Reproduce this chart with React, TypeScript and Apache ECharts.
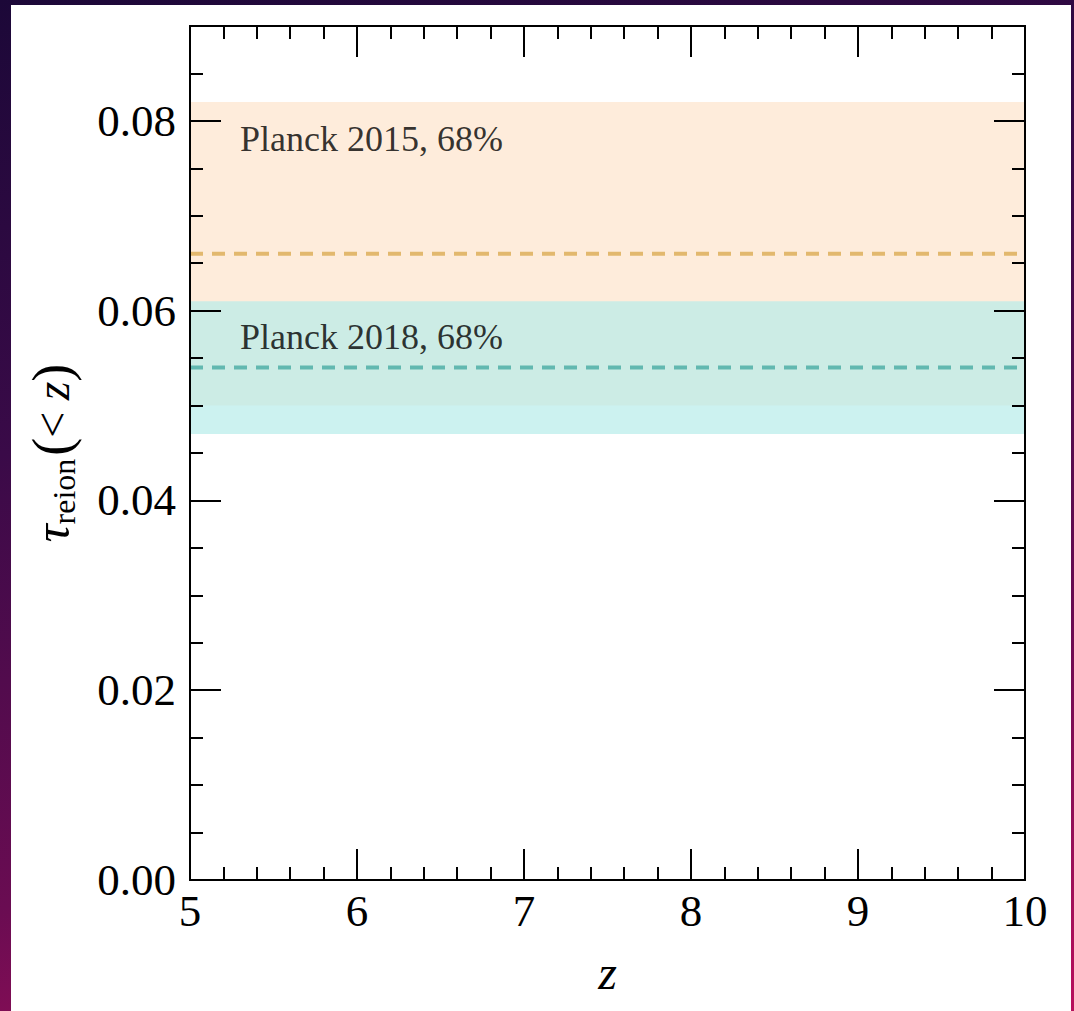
import React, { useEffect, useRef } from "react";
import * as echarts from "echarts";

// ---- data ----
const zRange = [5, 10];
const tauRange = [0, 0.09];
const bandNames = ["Planck 2015, 68%", "Planck 2018, 68%"];
const bandLow = [0.05, 0.047];
const bandHigh = [0.082, 0.061];
const bandCentral = [0.066, 0.054];
const labelZ = [5.3, 5.3];
const labelTau = [0.0781, 0.0572];
const bandFill = ["rgba(253,180,112,0.25)", "rgba(182,236,234,0.7)"];
const lineColor = ["#E2B86E", "#62B8B0"];

const FONT = "Times New Roman, Liberation Serif, Tinos, serif";

export default function App() {
  const ref = useRef<HTMLDivElement>(null);
  useEffect(() => {
    if (!ref.current) return;
    const chart = echarts.init(ref.current, null, { renderer: "svg" });
    const black = "#000";
    const baseX = {
      type: "value",
      min: zRange[0],
      max: zRange[1],
      interval: 1,
      z: 10,
      splitLine: { show: false },
      axisLine: { show: true, onZero: false, lineStyle: { color: black, width: 2 } },
      axisTick: { show: true, inside: true, length: 31, lineStyle: { color: black, width: 2 } },
      minorTick: { show: true, splitNumber: 5, length: 13, lineStyle: { color: black, width: 2 } },
    };
    const baseY = (pos: string, interval: number, tickLen: number, labels: boolean) => ({
      type: "value",
      position: pos,
      min: tauRange[0],
      max: tauRange[1],
      interval,
      z: 10,
      splitLine: { show: false },
      axisLine: { show: true, onZero: false, lineStyle: { color: black, width: 2 } },
      axisTick: { show: true, inside: true, length: tickLen, lineStyle: { color: black, width: 2 } },
      axisLabel: labels
        ? {
            show: true,
            fontFamily: FONT,
            fontSize: 45,
            color: black,
            margin: 14,
            formatter: (v: number) => (v > 0.085 ? "" : v.toFixed(2)),
          }
        : { show: false },
    });

    const series: any[] = [];
    bandNames.forEach((name, i) => {
      series.push({
        type: "line",
        name,
        xAxisIndex: 0,
        yAxisIndex: 0,
        symbol: "none",
        data: [
          [zRange[0], bandCentral[i]],
          [zRange[1], bandCentral[i]],
        ],
        lineStyle: { color: lineColor[i], width: 4, type: [13, 9] },
        z: 3,
        markArea: {
          silent: true,
          itemStyle: { color: bandFill[i] },
          data: [[{ yAxis: bandLow[i] }, { yAxis: bandHigh[i] }]],
        },
      });
    });
    series.push({
      type: "scatter",
      xAxisIndex: 0,
      yAxisIndex: 0,
      symbolSize: 0,
      z: 5,
      data: bandNames.map((n, i) => ({ value: [labelZ[i], labelTau[i]], name: n })),
      label: {
        show: true,
        position: "right",
        distance: 0,
        formatter: (p: any) => p.name,
        fontFamily: FONT,
        fontSize: 36,
        color: "#000",
      },
    });

    chart.setOption({
      animation: false,
      backgroundColor: "#fff",
      grid: { left: 179, top: 21, right: 46, bottom: 131, containLabel: false, outerBoundsMode: "none" },
      xAxis: [
        {
          ...baseX,
          position: "bottom",
          axisLabel: { show: true, fontFamily: FONT, fontSize: 45, color: black, margin: 8 },
          name: "z",
          nameLocation: "middle",
          nameGap: 68,
          nameTextStyle: { fontFamily: FONT, fontSize: 48, fontStyle: "italic", color: black },
        },
        { ...baseX, position: "top", axisLabel: { show: false } },
      ],
      yAxis: [
        {
          ...baseY("left", 0.02, 31, true),
          name: "{tau|τ}{sub|reion}{par|(}{lt|< }{it|z}{par|)}",
          nameLocation: "middle",
          nameRotate: 90,
          nameGap: 110,
          nameTextStyle: {
            color: black,
            fontFamily: FONT,
            rich: {
              tau: { fontFamily: FONT, fontSize: 50, fontStyle: "italic", color: black, lineHeight: 56, verticalAlign: "middle" },
              sub: { fontFamily: FONT, fontSize: 32, color: black, lineHeight: 32, verticalAlign: "bottom", padding: [0, 3, 0, 0] },
              par: { fontFamily: FONT, fontSize: 54, color: black, lineHeight: 56, verticalAlign: "middle" },
              lt: { fontFamily: FONT, fontSize: 46, color: black, lineHeight: 56, verticalAlign: "middle" },
              it: { fontFamily: FONT, fontSize: 48, fontStyle: "italic", color: black, lineHeight: 56, verticalAlign: "middle" },
            },
          },
        },
        baseY("left", 0.005, 13, false),
        baseY("right", 0.02, 31, false),
        baseY("right", 0.005, 13, false),
      ],
      series,
    });
    return () => chart.dispose();
  }, []);

  return (
    <div
      style={{
        position: "fixed",
        left: 0,
        top: 0,
        width: 1074,
        height: 1011,
        background: "linear-gradient(165deg, #1c0838 0%, #3a0a48 35%, #6a0c52 70%, #b8105c 100%)",
      }}
    >
      <div ref={ref} style={{ position: "absolute", left: 11, top: 5, width: 1060, height: 1006 }} />
    </div>
  );
}
